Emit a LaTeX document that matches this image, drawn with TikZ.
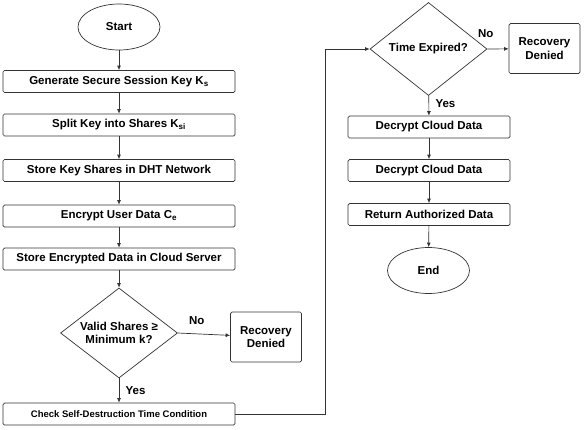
\documentclass[tikz,border=0pt]{standalone}
\usepackage{fontspec}
\setmainfont{Liberation Sans}
\usetikzlibrary{arrows.meta,shapes.geometric}
\begin{document}
\begin{tikzpicture}[x=1pt,y=-1pt,
  font=\bfseries\fontsize{11.5}{13.5}\selectfont,
  line width=0.7pt,draw=black!80,
  proc/.style={draw,rounded corners=1.5pt,minimum height=22pt,inner sep=1pt},
  term/.style={draw,ellipse,minimum width=82pt,minimum height=46pt},
  decide/.style={draw,diamond,aspect=1.3,minimum width=117pt,minimum height=90pt,inner sep=0pt,align=center},
  deny/.style={draw,rounded corners=1.5pt,minimum width=71pt,minimum height=50pt,align=center},
  flow/.style={-{Latex[length=4.5pt,width=4pt]}}]
\useasboundingbox (0,0) rectangle (584,429);
% left column
\node[term] (start) at (119,27) {Start};
\node[proc,minimum width=232pt] (gen) at (119,81.5) {Generate Secure Session Key K\textsubscript{s}};
\node[proc,minimum width=232pt] (split) at (119,125) {Split Key into Shares K\textsubscript{si}};
\node[proc,minimum width=232pt] (store) at (119,170.5) {Store Key Shares in DHT Network};
\node[proc,minimum width=232pt] (enc) at (119,216) {Encrypt User Data C\textsubscript{e}};
\node[proc,minimum width=232pt] (cloud) at (119,259) {Store Encrypted Data in Cloud Server};
\node[decide] (valid) at (119,333) {Valid Shares ≥\\Minimum k?};
\node[deny] (deny1) at (266,337) {Recovery\\Denied};
\node[proc,minimum width=232pt] (check) at (119,414) {\fontsize{9.5}{11}\selectfont Check Self-Destruction Time Condition};
% right column
\node[decide,minimum height=93pt] (time) at (428.5,49) {Time Expired?};
\node[deny] (deny2) at (544.5,48.5) {Recovery\\Denied};
\node[proc,minimum width=162pt] (dec1) at (429,127) {Decrypt Cloud Data};
\node[proc,minimum width=162pt] (dec2) at (429,170.5) {Decrypt Cloud Data};
\node[proc,minimum width=162pt] (ret) at (429,214.5) {Return Authorized Data};
\node[term] (end) at (428.5,270.5) {End};
\coordinate (bend) at (325,49);
% connectors
\draw[flow] (start) -- (gen);
\draw[flow] (gen) -- (split);
\draw[flow] (split) -- (store);
\draw[flow] (store) -- (enc);
\draw[flow] (enc) -- (cloud);
\draw[flow] (cloud) -- (valid);
\draw[flow] (valid.east) -- node[above=6pt,xshift=-2pt,pos=0.4]{No} (deny1);
\draw[flow] (valid) -- node[right=3pt]{Yes} (check);
\draw[flow] (check.east) -| (bend) -- (time.west);
\draw[flow] (time.east) -- node[above=8pt,xshift=-8pt,pos=0.3]{No} (deny2);
\draw[flow] (time) -- node[right=3pt,pos=0.4]{Yes} (dec1);
\draw[flow] (dec1) -- (dec2);
\draw[flow] (dec2) -- (ret);
\draw[flow] (ret) -- (end);
\end{tikzpicture}
\end{document}
